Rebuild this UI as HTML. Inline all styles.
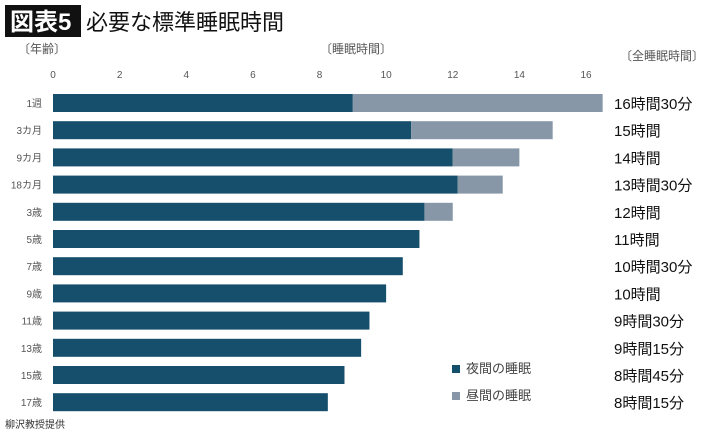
<!DOCTYPE html>
<html><head><meta charset="utf-8"><style>
body{margin:0;width:710px;height:434px;background:#fff;overflow:hidden;font-family:"Liberation Sans","Noto Sans CJK JP",sans-serif;}
svg text{font-family:"Liberation Sans","Noto Sans CJK JP",sans-serif;}
</style></head><body>
<svg id="c" width="710" height="434">
<rect x="5" y="5" width="76" height="32" fill="#111"/>
<text x="10" y="30" font-size="24" fill="#fff" font-weight="bold">図表5</text>
<text x="86" y="30" font-size="22" fill="#111">必要な標準睡眠時間</text>
<text x="18" y="53" font-size="12" fill="#555">〔年齢〕</text>
<text x="320" y="53" font-size="12" fill="#555">〔睡眠時間〕</text>
<text x="620" y="60" font-size="12" fill="#555">〔全睡眠時間〕</text>
<g id="ticks"></g><g id="bars"></g>
<rect x="452" y="365" width="8" height="8" fill="#154f6b"/>
<text x="466" y="373" font-size="13" fill="#444">夜間の睡眠</text>
<rect x="452" y="392" width="8" height="8" fill="#8797a8"/>
<text x="466" y="400" font-size="13" fill="#444">昼間の睡眠</text>
<text x="5" y="428" font-size="10" fill="#333">柳沢教授提供</text>
</svg>
<script>
const categories=["1週","3カ月","9カ月","18カ月","3歳","5歳","7歳","9歳","11歳","13歳","15歳","17歳"];
const nightSleep=[9,10.75,12,12.15,11.15,11,10.5,10,9.5,9.25,8.75,8.25];
const totalSleep=[16.5,15,14,13.5,12,11,10.5,10,9.5,9.25,8.75,8.25];
const totalLabels=["16時間30分","15時間","14時間","13時間30分","12時間","11時間","10時間30分","10時間","9時間30分","9時間15分","8時間45分","8時間15分"];
const ticks=[0,2,4,6,8,10,12,14,16];
const NS="http://www.w3.org/2000/svg";
const x=v=>53+v*(586-53)/16;
const y=i=>94+i*27.2;
function mk(t,a,p,txt){const e=document.createElementNS(NS,t);for(const k in a)e.setAttribute(k,a[k]);if(txt!==undefined)e.textContent=txt;p.appendChild(e);return e;}
const tg=document.getElementById('ticks'),bg=document.getElementById('bars');
ticks.forEach(t=>{const e=mk('text',{x:x(t),y:78,'font-size':10,fill:'#555','text-anchor':'middle'},tg,t);

});
categories.forEach((c,i)=>{
const l=mk('text',{x:42,y:y(i)+13,'font-size':10,fill:'#555','text-anchor':'end'},bg,c);


const n=mk('rect',{x:x(0),y:y(i),width:x(nightSleep[i])-x(0),height:18,fill:'#154f6b'},bg);


if(totalSleep[i]>nightSleep[i]){const d=mk('rect',{x:x(nightSleep[i]),y:y(i),width:x(totalSleep[i])-x(nightSleep[i]),height:18,fill:'#8797a8'},bg);

}
const tl=mk('text',{x:614,y:y(i)+15,'font-size':15,fill:'#111'},bg,totalLabels[i]);


});
</script>
</body></html>
